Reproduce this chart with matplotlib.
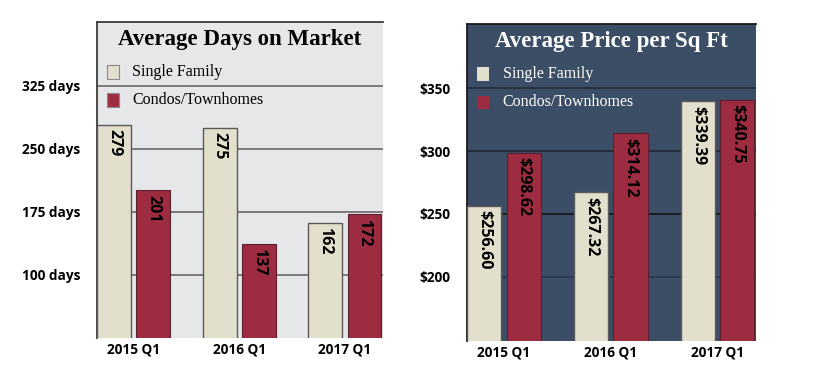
import matplotlib
matplotlib.use("Agg")
import matplotlib.pyplot as plt
from matplotlib.patches import Rectangle
import numpy as np

quarters = ["2015 Q1", "2016 Q1", "2017 Q1"]
days_single = [279, 275, 162]
days_condo = [201, 137, 172]
days_ticks = [100, 175, 250, 325]
days_tick_labels = ["100 days", "175 days", "250 days", "325 days"]
price_single = [256.60, 267.32, 339.39]
price_condo = [298.62, 314.12, 340.75]
price_ticks = [200, 250, 300, 350]
price_tick_labels = ["$200", "$250", "$300", "$350"]
series_names = ["Single Family", "Condos/Townhomes"]

SF_COLOR = "#e2dfcd"
CONDO_COLOR = "#9d2c41"
SANS = ["Open Sans", "DejaVu Sans"]
SERIF = ["Liberation Serif", "DejaVu Serif"]

fig = plt.figure(figsize=(8.3, 3.7), dpi=100)

def panel(rect, single, condo, ticks, tick_labels, ylim, title, bg, grid_colors,
          text_color, legend_edge, fmt, edge_axis_color):
    ax = fig.add_axes(rect)
    ax.set_facecolor(bg)
    x = np.arange(len(quarters))
    w = 0.32
    off = 0.185
    for t, gc in zip(ticks, grid_colors):
        ax.axhline(t, color=gc, lw=1.1, zorder=1)
    b1 = ax.bar(x - off, single, w, color=SF_COLOR, edgecolor="#5a5a5a", lw=1.0, zorder=3)
    b2 = ax.bar(x + off, condo, w, color=CONDO_COLOR, edgecolor="#5a2030", lw=0.8, zorder=3)
    ax.set_xlim(-0.345, 2.36)
    ax.set_ylim(*ylim)
    ax.set_xticks(x)
    ax.set_xticklabels(quarters, fontfamily=SANS, fontweight="bold", fontsize=9.8)
    ax.set_yticks(ticks)
    ax.set_yticklabels(tick_labels, fontfamily=SANS, fontweight="bold", fontsize=9.8)
    ax.tick_params(length=0, pad=12)
    ax.tick_params(axis="x", pad=3)
    for s in ["right", "bottom"]:
        ax.spines[s].set_visible(False)
    ax.spines["left"].set_color(edge_axis_color)
    ax.spines["left"].set_linewidth(1.3)
    ax.spines["top"].set_color(edge_axis_color)
    ax.spines["top"].set_linewidth(1.3)
    # value labels
    yr = ylim[1] - ylim[0]
    for bars, vals in ((b1, single), (b2, condo)):
        for b, v in zip(bars, vals):
            ax.text(b.get_x() + b.get_width() / 2, v - yr * 0.014, fmt(v),
                    rotation=270, ha="center", va="top", fontsize=11.5,
                    fontfamily=SANS, fontweight="bold", color="black", zorder=4)
    # title
    ax.text(0.5, 0.945, title, transform=ax.transAxes, ha="center", va="center",
            fontsize=16.5, fontweight="bold", fontfamily=SERIF, color=text_color, zorder=5)
    # legend
    for i, (name, col) in enumerate(zip(series_names, [SF_COLOR, CONDO_COLOR])):
        yc = 0.842 - i * 0.089
        ax.add_patch(Rectangle((0.035, yc - 0.021), 0.042, 0.042, transform=ax.transAxes,
                               facecolor=col, edgecolor=legend_edge, lw=0.8, zorder=5))
        ax.text(0.123, yc, name, transform=ax.transAxes, ha="left", va="center",
                fontsize=11.5, fontfamily=SERIF, color=text_color, zorder=5)
    return ax

panel([97 / 830, 1 - 338 / 370, 286 / 830, 316 / 370],
      days_single, days_condo, days_ticks, days_tick_labels, (25, 401),
      "Average Days on Market", "#e6e7e8", ["#5c5c5c"] * 4, "black",
      "#8a8a8a", lambda v: f"{v:d}", "#3a3a3a")

panel([467 / 830, 1 - 341 / 370, 289 / 830, 317 / 370],
      price_single, price_condo, price_ticks, price_tick_labels, (149.2, 400.8),
      "Average Price per Sq Ft", "#3b4e66", ["#2a3848", "#111111", "#1c2430", "#222a36"], "white",
      "none", lambda v: f"${v:.2f}", "#1a1a1a")

fig.savefig("out.png", dpi=100)
